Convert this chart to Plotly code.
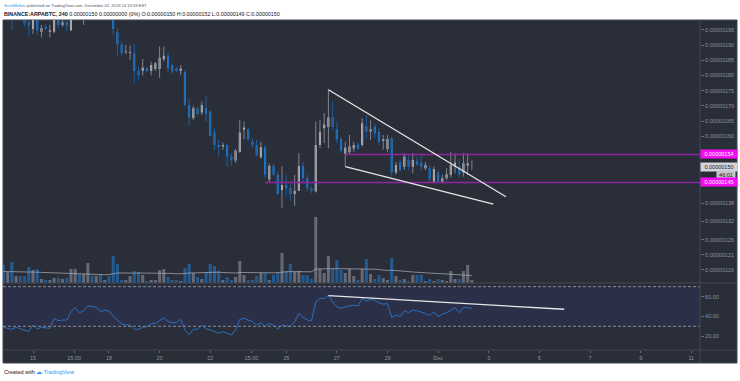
import plotly.graph_objects as go
import pandas as pd

# ---------------- data (prices in satoshi, 4h candles) ----------------
times = pd.date_range("2019-11-13 20:00", periods=112, freq="4h")

open_ = [204, 200, 204, 199, 205, 201, 197.5, 195.3, 200, 194.4, 196.0, 194.4,
         194.4, 200, 196.6, 197.5, 194.9, 199.5, 202, 200, 203, 206, 204, 205,
         203, 204, 201, 194.3, 190.2, 187.6, 187.4, 187.3, 181.5, 181.5, 182.4, 181.5,
         182.1, 182.1, 185.3, 186.5, 183.4, 182.3, 181.5, 181.2, 170.3, 166.0, 169.2, 167.8,
         169.2, 168.1, 161.2, 157.1, 156.6, 157.1, 153.3, 152.0, 154.9, 162.1, 162.3, 158.2,
         157.1, 153.1, 156.4, 145.8, 150.2, 147.3, 142.3, 144.0, 142.9, 141.0, 142.1, 150.2,
         146.2, 142.9, 141.8, 157.1, 162.6, 163.0, 166.2, 162.3, 159.1, 154.2, 154.7, 156.0,
         157.3, 157.1, 163.2, 161.6, 163.2, 161.5, 158.4, 155.8, 159.3, 148.1, 151.4, 150.0,
         152.2, 150.0, 151.8, 151.4, 149.5, 149.5, 145.0, 148.1, 145.0, 146.2, 147.3, 150.0,
         150.0, 148.1, 150.3, 150.0]
high = [206, 205, 205, 205, 206, 202, 198.5, 201, 201, 196.6, 196.8, 196.6,
        200.5, 201, 198.4, 198, 201, 203, 203.5, 204, 208, 207, 206.5, 206,
        205, 205, 202, 195.6, 191.0, 190.0, 189.8, 190.3, 182.8, 185.4, 183.0, 184.5,
        184.5, 189.5, 189.5, 187.7, 184.0, 182.8, 183.4, 181.8, 172.6, 170.0, 169.8, 171.4,
        173.2, 168.5, 162.6, 158.8, 157.9, 157.5, 154.4, 155.8, 165.3, 164.8, 163.0, 159.3,
        158.8, 158.2, 157.1, 151.1, 151.1, 148.3, 150.2, 147.3, 144.3, 147.3, 154.5, 151.6,
        147.3, 143.6, 164.8, 165.3, 167.6, 175.4, 171.4, 164.8, 159.8, 158.2, 160.4, 158.2,
        158.0, 165.9, 167.0, 165.3, 164.3, 162.6, 160.4, 160.4, 159.8, 151.6, 152.2, 154.4,
        153.8, 154.4, 153.3, 153.8, 151.5, 150.5, 150.0, 148.9, 147.3, 149.5, 154.9, 154.4,
        152.5, 154.4, 154.4, 152.0]
low = [199.5, 199, 194.9, 198.6, 199, 196.0, 192.7, 193.6, 193.3, 192.5, 194.8, 192.5,
       193.8, 195.5, 196.0, 194.6, 194.5, 198.8, 199, 196.6, 202, 203, 203, 202,
       202, 200, 193.3, 186.2, 186.5, 187.0, 185.1, 177.5, 178.2, 180.0, 181.0, 180.0,
       181.5, 179.2, 184.6, 181.1, 180.5, 181.0, 180.1, 169.9, 163.4, 165.3, 166.8, 167.0,
       164.8, 159.8, 155.5, 153.3, 155.5, 150.0, 150.2, 151.3, 154.5, 159.0, 158.5, 156.0,
       153.3, 152.7, 146.3, 145.0, 146.9, 140.7, 136.3, 140.1, 138.8, 137.1, 142.0, 144.5,
       141.8, 141.3, 141.5, 156.1, 157.8, 156.0, 162.1, 157.7, 154.4, 150.0, 153.8, 154.9,
       155.5, 156.6, 159.3, 158.8, 159.3, 157.1, 155.5, 154.8, 146.7, 147.3, 148.3, 148.9,
       148.9, 147.8, 150.2, 148.9, 148.9, 145.0, 144.9, 144.6, 144.5, 145.6, 146.4, 147.8,
       146.4, 146.7, 147.3, 149.0]
close = [201, 203, 199, 203, 201, 197.2, 196.4, 199, 194.9, 195.5, 195.3, 194.9,
         199.5, 196.4, 197.5, 196.4, 199.5, 202, 200, 203, 206, 204, 205, 203,
         204, 201, 195.3, 190.2, 187.3, 187.9, 187.7, 181.5, 180.1, 182.6, 181.5, 183.4,
         184.0, 185.8, 186.5, 182.3, 181.2, 181.5, 182.3, 170.3, 166.2, 169.2, 167.3, 170.3,
         167.3, 160.1, 157.1, 156.4, 157.1, 153.3, 152.0, 155.2, 161.2, 162.9, 159.0, 157.1,
         153.8, 156.4, 147.3, 150.2, 147.3, 141.0, 144.0, 142.9, 141.0, 142.1, 150.2, 146.2,
         142.9, 142.1, 157.1, 161.5, 163.9, 166.2, 163.1, 159.0, 155.2, 156.3, 156.6, 157.1,
         156.0, 164.3, 161.6, 162.3, 161.0, 158.2, 159.0, 159.1, 148.1, 150.5, 148.9, 153.3,
         150.0, 152.2, 150.8, 150.0, 150.5, 145.9, 149.2, 145.0, 146.2, 147.5, 150.5, 151.4,
         147.3, 151.1, 151.1, 150.0]
volume = [18, 11, 21, 7, 7, 7, 16, 13, 14, 4, 3, 3,
          5, 5, 4, 5, 14, 14, 9, 9, 20, 7, 7, 9,
          3, 7, 27, 19, 3, 3, 7, 12, 11, 8, 2, 3,
          3, 13, 14, 6, 3, 3, 2, 15, 19, 10, 6, 4,
          11, 19, 17, 12, 3, 6, 3, 6, 22, 8, 3, 3,
          7, 10, 10, 3, 8, 10, 30, 12, 19, 11, 12, 8,
          8, 4, 66, 14, 10, 27, 14, 23, 13, 10, 14, 7, 3, 14, 24,
          9, 4, 8, 5, 3, 25, 7, 3, 4, 2, 8, 8, 8, 2, 4, 2, 4, 3, 2, 12, 4, 4, 12, 18, 3]
volume_ma = [11.5, 11.5, 11.3, 11.3, 11.2, 11.2, 11, 11,
             10.8, 10.6, 10.4, 10.2, 10, 9.8, 9.6, 9.4, 9.2, 9,
             8.8, 8.7, 8.8, 8.6, 8.5, 8.4, 8.3, 8.5, 9.5, 10,
             10, 9.8, 9.8, 9.9, 10, 10, 9.8, 9.6, 9.6, 10,
             10.2, 10, 9.6, 9.2, 9, 9.5, 10, 10.2, 10.4, 10.5,
             10.8, 11, 11, 10.8, 10.5, 10.2, 10, 10, 10.5, 10.4,
             10.2, 10, 10, 10, 10, 10, 10.2, 10.4, 11, 11.2,
             11.4, 11.5, 11.5, 11.4, 11.3, 11.2, 14, 14.2, 14.3, 14.5,
             14.5, 14.4, 14.3, 14.3, 14.2, 14, 13.8, 13.8, 14, 14,
             13.8, 13.5, 13, 12.5, 12.8, 12.3, 12, 11.7, 11.2, 11,
             10.7, 10.5, 10.3, 10, 9.8, 9.5, 9.2, 9, 8.7, 8.5,
             8.2, 8, 7.8, 7.5]
rsi = [29, 28, 27, 29, 27.7, 26.3, 24.7, 31.3, 27.3, 29, 28.7, 28,
       38, 35.7, 36.3, 36.3, 44.7, 49, 43.7, 45.7, 50.7, 49.7, 49.7, 44.7,
       46.3, 45.3, 40.3, 36.3, 32.3, 31.3, 31.3, 27, 27, 29, 29.7, 32.3,
       33, 35.7, 38.7, 34.7, 33.7, 33.7, 37, 26.3, 21.3, 27, 27, 31.3,
       27.3, 26.3, 24.7, 23, 24.7, 23, 21.3, 26.3, 37, 38, 36.3, 34.7,
       31.3, 33.7, 29.7, 33,
       31.3, 27, 31.3, 30.3, 29.7, 34.7, 43,
       39, 36.3, 35.7, 54.7,
       58, 58, 61.3, 54.7, 49.7, 48, 49.7, 50.3, 51.3, 50.5, 58, 55.5,
       57, 56.3, 53.7, 52.3, 53, 39, 41, 40, 45.7, 43.7, 46.3, 45.7, 44.7,
       43, 41, 44.7, 39.7, 42.3, 43.7, 46.3, 49, 43.7, 49, 49, 48]

price_ticks = [116, 121, 126, 132, 138, 160, 165, 170, 175, 180, 185, 190, 195]
rsi_ticks = [20, 40, 60]
time_ticks = ["2019-11-15", "2019-11-16 15:00", "2019-11-18", "2019-11-20", "2019-11-22",
              "2019-11-23 15:00", "2019-11-25", "2019-11-27", "2019-11-29", "2019-12-01",
              "2019-12-03", "2019-12-05", "2019-12-07", "2019-12-09", "2019-12-11"]
time_labels = ["15", "15:00", "18", "20", "22", "15:00", "25", "27", "29", "Dec",
               "3", "5", "7", "9", "11"]

# horizontal levels (price, start time) and drawn trend lines
levels = [(154.0, "2019-11-27 08:00"), (144.8, "2019-11-24 04:00")]
wedge_upper = [("2019-11-26 16:00", 175.3), ("2019-12-03 16:20", 140.1)]
wedge_lower = [("2019-11-27 08:00", 150.0), ("2019-12-03 04:20", 137.7)]
rsi_trend = [("2019-11-26 16:00", 60.9), ("2019-12-05 23:30", 47.2)]
last_price = 150.0

x_range = ["2019-11-13 19:34", "2019-12-11 08:14"]

# ---------------- colours ----------------
BG = "#2a2e39"
UP = "#c9ccd3"
DOWN = "#1e88e5"
UP_WICK = "#80838d"
DOWN_WICK = "#1f5c9c"
VOL_UP = "#676a74"
VOL_DOWN = "#235b91"
GRAYTXT = "#8f929b"
SEP = "#434651"
MAGENTA = "#f50cf5"
LEVEL = "#9024a6"
FONT = "Liberation Sans"

is_up = [c >= o for o, c in zip(open_, close)]

fig = go.Figure()

# volume (overlay axis y3)
fig.add_trace(go.Bar(
    x=times, y=volume, yaxis="y3", xaxis="x",
    marker=dict(color=[VOL_UP if u else VOL_DOWN for u in is_up], line=dict(width=0)),
    width=4 * 3600 * 1000 * 0.72, hoverinfo="skip"))
fig.add_trace(go.Scatter(
    x=times, y=volume_ma, yaxis="y3", mode="lines",
    line=dict(color="rgba(170,173,182,0.8)", width=0.9), hoverinfo="skip"))

# wicks
for want_up, col in [(True, UP_WICK), (False, DOWN_WICK)]:
    wx, wy = [], []
    for t, h, l, u in zip(times, high, low, is_up):
        if u == want_up:
            wx += [t, t, None]
            wy += [l, h, None]
    fig.add_trace(go.Scatter(x=wx, y=wy, mode="lines", line=dict(color=col, width=1),
                             hoverinfo="skip"))

# candle bodies
fig.add_trace(go.Candlestick(
    x=times, open=open_, high=high, low=low, close=close,
    increasing=dict(fillcolor=UP, line=dict(color=UP, width=0)),
    decreasing=dict(fillcolor=DOWN, line=dict(color=DOWN, width=0)),
    whiskerwidth=0, hoverinfo="skip"))

# RSI
fig.add_trace(go.Scatter(x=times, y=rsi, yaxis="y2", mode="lines",
                         line=dict(color="#2a6fc0", width=1), hoverinfo="skip"))

main_bottom = 67 / 330

shapes = [
    dict(type="rect", xref="paper", yref="paper", x0=0, x1=734 / 697, y0=-13 / 330, y1=1.0,
         fillcolor=BG, line=dict(color=SEP, width=1), layer="below"),
    dict(type="rect", xref="paper", yref="y2", x0=0, x1=1, y0=30, y1=70,
         fillcolor="#2b3048", line=dict(width=0), layer="below"),
    dict(type="line", xref="paper", yref="y2", x0=0, x1=1, y0=70, y1=70,
         line=dict(color="#8a8d96", width=1, dash="3px,2px")),
    dict(type="line", xref="paper", yref="y2", x0=0, x1=1, y0=30, y1=30,
         line=dict(color="#8a8d96", width=1, dash="3px,2px")),
    dict(type="line", xref="paper", yref="paper", x0=0, x1=734 / 697, y0=main_bottom, y1=main_bottom,
         line=dict(color=SEP, width=1)),
    dict(type="line", xref="paper", yref="paper", x0=0, x1=734 / 697, y0=0, y1=0,
         line=dict(color=SEP, width=1)),
    dict(type="line", xref="paper", yref="paper", x0=1, x1=1, y0=-13 / 330, y1=1,
         line=dict(color=SEP, width=1)),
]
for price, start in levels:
    shapes.append(dict(type="line", xref="x", yref="y", x0=start, x1=x_range[1], y0=price, y1=price,
                       line=dict(color=LEVEL, width=1.5)))
for (t0, p0), (t1, p1) in [wedge_upper, wedge_lower]:
    shapes.append(dict(type="line", xref="x", yref="y", x0=t0, x1=t1, y0=p0, y1=p1,
                       line=dict(color="#e6e6e6", width=1.3)))
shapes.append(dict(type="line", xref="x", yref="y2", x0=rsi_trend[0][0], x1=rsi_trend[1][0],
                   y0=rsi_trend[0][1], y1=rsi_trend[1][1], line=dict(color="#e6e6e6", width=1.3)))

annotations = []
def price_label(val, bg, fg, text=None, yshift=0, width=34, x=1.0):
    annotations.append(dict(
        xref="paper", yref="y", x=x, y=val, xanchor="left", yanchor="middle", yshift=yshift,
        text=text if text is not None else f"{val * 1e-8:.8f}",
        showarrow=False, bgcolor=bg, borderpad=1, width=width, align="center",
        font=dict(family=FONT, size=5.5, color=fg)))

price_label(154.0, MAGENTA, "white", "0.00000154")
price_label(last_price, "#d3d5da", "#131722", "0.00000150")
price_label(last_price, "#c3c5cb", "#131722", "46:01", yshift=-8.5, width=16, x=1 + 16 / 697)
price_label(144.8, MAGENTA, "white", "0.00000145")

annotations += [
    dict(xref="paper", yref="paper", x=-1 / 697, y=(350 - 5) / 330, xanchor="left", yanchor="middle",
         showarrow=False,
         text="<span style='color:#2196f3'>ScottMelker</span> published on TradingView.com, December 02, 2019 14:13:59 EST",
         font=dict(family=FONT, size=4.1, color="#50535e")),
    dict(xref="paper", yref="paper", x=-1 / 697, y=(350 - 14) / 330, xanchor="left", yanchor="middle",
         showarrow=False,
         text="<b>BINANCE:ARPABTC, 240</b> 0.00000150 0.00000000 (0%) O:0.00000150 H:0.00000152 L:0.00000149 C:0.00000150",
         font=dict(family=FONT, size=5.35, color="#131722")),
    dict(xref="paper", yref="paper", x=-1 / 697, y=(350 - 372) / 330, xanchor="left", yanchor="middle",
         showarrow=False,
         text="Created with <span style='color:#2196f3'>☁ TradingView</span>",
         font=dict(family=FONT, size=5.5, color="#131722")),
]

fig.update_layout(
    width=740, height=381,
    margin=dict(l=3, r=40, t=20, b=31),
    paper_bgcolor="white", plot_bgcolor="rgba(0,0,0,0)",
    showlegend=False, hovermode=False, barmode="overlay",
    font=dict(family=FONT, size=5.5, color=GRAYTXT),
    xaxis=dict(type="date", range=x_range, anchor="y2", domain=[0, 1],
               rangeslider=dict(visible=False), showgrid=False, zeroline=False, showline=False,
               tickvals=time_ticks, ticktext=time_labels, ticks="outside", ticklen=2,
               tickcolor="#6a6d78", tickfont=dict(family=FONT, size=5.5, color=GRAYTXT)),
    yaxis=dict(domain=[main_bottom, 1], range=[111.72, 198.24], side="right", anchor="x",
               showgrid=False, zeroline=False, showline=False,
               tickvals=price_ticks, ticktext=[f"{v * 1e-8:.8f}" for v in price_ticks],
               ticks="outside", ticklen=3, tickcolor="#6a6d78",
               tickfont=dict(family=FONT, size=5.5, color=GRAYTXT)),
    yaxis2=dict(domain=[0, main_bottom], range=[6.1, 73.7], side="right", anchor="x",
                showgrid=False, zeroline=False, showline=False,
                tickvals=rsi_ticks, ticktext=[f"{v:.2f}" for v in rsi_ticks],
                ticks="outside", ticklen=3, tickcolor="#6a6d78",
                tickfont=dict(family=FONT, size=5.5, color=GRAYTXT)),
    yaxis3=dict(overlaying="y", range=[0, 263], visible=False, anchor="x"),
    shapes=shapes, annotations=annotations,
)

fig.write_html("out.html", config={"displayModeBar": False},
               post_script="document.body.style.margin='0px';")
